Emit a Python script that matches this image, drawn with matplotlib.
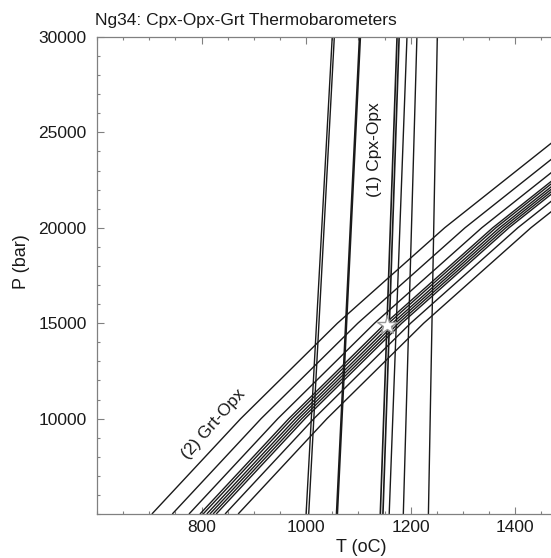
import matplotlib
matplotlib.use("Agg")
import matplotlib.pyplot as plt
from matplotlib.ticker import MultipleLocator

plt.rcParams['font.family'] = ['Liberation Sans', 'DejaVu Sans']

# Pressure limits used to draw each Cpx-Opx isopleth (bar)
p_low, p_high = 5000, 30000

# (1) Cpx-Opx thermometer: temperature (oC) at 5 kbar and at 30 kbar
cpx_T_at_5kb = [1000, 1005, 1059, 1142, 1147, 1159, 1186, 1234]
cpx_T_at_30kb = [1050, 1054, 1103, 1174, 1178, 1193, 1212, 1251]
cpx_width = [1.0, 1.0, 1.8, 1.2, 1.2, 1.0, 1.0, 1.0]

# (2) Grt-Opx barometer: temperature (oC) of each isopleth at these pressures
grt_P = [5000, 10000, 15000, 20000, 25000]
grt_T = [
    [705, 875, 1060, 1265, 1495],
    [744, 914, 1099, 1304, 1534],
    [776, 946, 1131, 1336, 1566],
    [797, 967, 1152, 1357, 1587],
    [803, 973, 1158, 1363, 1593],
    [810, 980, 1165, 1370, 1600],
    [816, 986, 1171, 1376, 1606],
    [822, 992, 1177, 1382, 1612],
    [828, 998, 1183, 1388, 1618],
    [845, 1015, 1200, 1405, 1635],
    [870, 1040, 1225, 1430, 1660],
]

# Preferred P-T estimate
best_T, best_P = 1155, 14900

fig = plt.figure(figsize=(5.51, 5.58), dpi=100)
ax = fig.add_axes([97 / 551, 44 / 558, 460 / 551, 477 / 558])

for t0, t1, lw in zip(cpx_T_at_5kb, cpx_T_at_30kb, cpx_width):
    ax.plot([t0, t1], [p_low, p_high], color='#1a1a1a', lw=lw, solid_capstyle='butt')
for temps in grt_T:
    ax.plot(temps, grt_P, color='#1a1a1a', lw=1.0, solid_capstyle='butt')

ax.plot([best_T], [best_P], marker='*', ms=15, mfc='white', mec='#999999', mew=1.0,
        linestyle='none', zorder=5)

ax.set_xlim(600, 1480)
ax.set_ylim(5000, 30000)

ax.set_xticks([800, 1000, 1200, 1400])
ax.set_yticks([10000, 15000, 20000, 25000, 30000])
ax.xaxis.set_minor_locator(MultipleLocator(50))
ax.yaxis.set_minor_locator(MultipleLocator(1000))
ax.tick_params(which='both', direction='in', top=True, right=False, colors='#808080',
               labelcolor='#1a1a1a', labelsize=12.5, width=0.8)
ax.tick_params(which='major', length=5)
ax.tick_params(which='minor', length=2.5)
ax.tick_params(axis='y', pad=7.5)
ax.tick_params(axis='x', pad=4.5)
for s in ax.spines.values():
    s.set_color('#808080')
    s.set_linewidth(0.9)

fig.text(374 / 551, 1 - 150 / 558, '(1) Cpx-Opx', fontsize=12.5, rotation=90,
         ha='center', va='center', color='#1a1a1a')
fig.text(213 / 551, 1 - 424 / 558, '(2) Grt-Opx', fontsize=12.5, ha='center', va='center',
         rotation=48.5, color='#1a1a1a', rotation_mode='anchor')

fig.text(95 / 551, 1 - 20 / 558, 'Ng34: Cpx-Opx-Grt Thermobarometers', fontsize=12.5,
         ha='left', va='center', color='#1a1a1a')
fig.text(361 / 551, 1 - 548 / 558, 'T (oC)', fontsize=13, ha='center', va='center',
         color='#1a1a1a')
fig.text(21 / 551, 1 - 262 / 558, 'P (bar)', fontsize=13, ha='center', va='center',
         rotation=90, color='#1a1a1a')

fig.savefig('out.png', dpi=100)
